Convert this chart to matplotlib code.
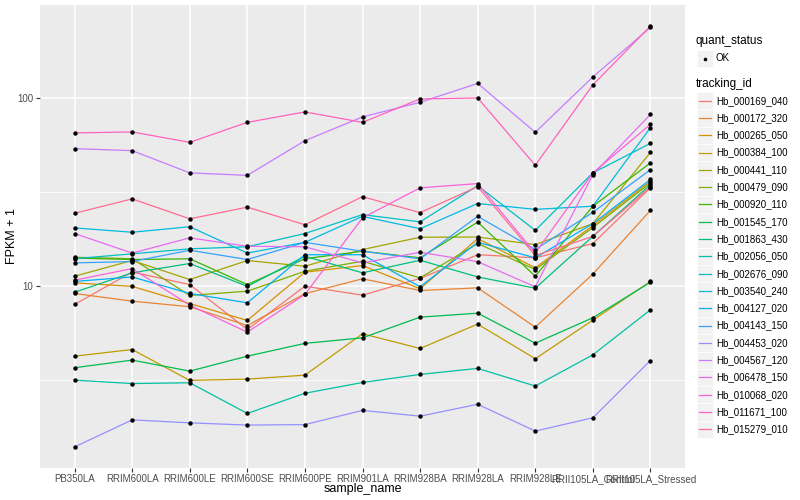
import numpy as np
import matplotlib
matplotlib.use('Agg')
import matplotlib.pyplot as plt
from matplotlib.patches import Rectangle
from matplotlib.lines import Line2D
from matplotlib.ticker import NullLocator

plt.rcParams['font.family'] = ['Liberation Sans', 'DejaVu Sans']

# ==========================================
# DATA (FPKM + 1)
# ==========================================
samples = ['PB350LA', 'RRIM600LA', 'RRIM600LE', 'RRIM600SE', 'RRIM600PE', 'RRIM901LA',
           'RRIM928BA', 'RRIM928LA', 'RRIM928LE', 'RRII105LA_Control', 'RRII105LA_Stressed']

tracking_ids = ['Hb_000169_040', 'Hb_000172_320', 'Hb_000265_050', 'Hb_000384_100',
                'Hb_000441_110', 'Hb_000479_090', 'Hb_000920_110', 'Hb_001545_170',
                'Hb_001863_430', 'Hb_002056_050', 'Hb_002676_090', 'Hb_003540_240',
                'Hb_004127_020', 'Hb_004143_150', 'Hb_004453_020', 'Hb_004567_120',
                'Hb_006478_150', 'Hb_010068_020', 'Hb_011671_100', 'Hb_015279_010']

hb_000169_040 = [8.0, 11.9, 10.2, 5.89, 10.0, 8.96, 11.0, 14.7, 14.15, 16.85, 33.4]
hb_000172_320 = [9.15, 8.33, 7.78, 6.18, 9.13, 10.95, 9.49, 9.8, 6.06, 11.6, 25.3]
hb_000265_050 = [10.42, 9.98, 8.09, 6.58, 11.87, 12.88, 9.69, 17.9, 12.52, 21.0, 36.1]
hb_000384_100 = [4.25, 4.61, 3.16, 3.21, 3.37, 5.59, 4.67, 6.29, 4.12, 6.6, 10.6]
hb_000441_110 = [11.3, 13.69, 10.85, 13.69, 12.77, 15.66, 18.2, 18.25, 16.64, 21.5, 51.4]
hb_000479_090 = [14.25, 14.0, 8.93, 9.41, 12.01, 13.57, 11.08, 16.85, 12.26, 20.5, 35.4]
hb_000920_110 = [14.11, 13.86, 13.98, 10.2, 14.0, 15.34, 14.15, 21.9, 11.3, 26.6, 45.2]
hb_001545_170 = [3.69, 4.05, 3.54, 4.25, 4.97, 5.32, 6.85, 7.19, 4.98, 6.8, 10.5]
hb_001863_430 = [9.29, 11.78, 13.2, 9.98, 14.43, 11.78, 13.74, 11.2, 9.76, 18.4, 34.66]
hb_002056_050 = [3.17, 3.04, 3.07, 2.11, 2.7, 3.08, 3.4, 3.66, 2.95, 4.32, 7.49]
hb_002676_090 = [14.0, 14.86, 15.8, 16.2, 19.05, 24.0, 21.97, 34.2, 19.8, 40.0, 57.4]
hb_003540_240 = [20.4, 19.35, 20.7, 15.0, 17.1, 23.5, 20.2, 27.5, 25.6, 26.6, 69.6]
hb_004127_020 = [10.6, 11.2, 9.15, 8.16, 14.7, 14.7, 9.93, 17.1, 14.15, 21.5, 36.9]
hb_004143_150 = [13.3, 13.52, 15.53, 13.86, 17.1, 15.34, 13.98, 23.5, 15.66, 24.7, 41.6]
hb_004453_020 = [1.4, 1.95, 1.88, 1.83, 1.84, 2.19, 2.04, 2.36, 1.7, 2.0, 4.03]
hb_004567_120 = [53.8, 52.5, 40.0, 38.8, 59.3, 79.3, 94.8, 119.5, 65.7, 129.3, 237.0]
hb_006478_150 = [19.05, 15.0, 18.06, 16.3, 16.2, 13.3, 15.15, 13.5, 9.93, 39.2, 81.8]
hb_010068_020 = [10.76, 12.4, 7.93, 5.7, 9.04, 23.07, 33.3, 35.1, 15.0, 40.0, 72.4]
hb_011671_100 = [65.2, 66.0, 58.1, 74.2, 84.3, 74.2, 98.8, 100.0, 43.9, 117.3, 241.0]
hb_015279_010 = [24.4, 29.1, 22.8, 26.3, 21.2, 29.9, 24.6, 33.8, 14.55, 18.4, 33.7]

series = [hb_000169_040, hb_000172_320, hb_000265_050, hb_000384_100, hb_000441_110,
          hb_000479_090, hb_000920_110, hb_001545_170, hb_001863_430, hb_002056_050,
          hb_002676_090, hb_003540_240, hb_004127_020, hb_004143_150, hb_004453_020,
          hb_004567_120, hb_006478_150, hb_010068_020, hb_011671_100, hb_015279_010]

# ggplot2 default hue palette for 20 levels
colors = ['#F8766D', '#EA8331', '#D89000', '#C09B00', '#A3A500', '#7CAE00', '#39B600',
          '#00BB4E', '#00BF7D', '#00C1A3', '#00BFC4', '#00BAE0', '#00B0F6', '#35A2FF',
          '#9590FF', '#C77CFF', '#E76BF3', '#FA62DB', '#FF62BC', '#FF6C91']

W, H = 800, 500


def fig_xy(px, py):
    return px / W, 1 - py / H


fig = plt.figure(figsize=(8, 5), dpi=100)
ax = fig.add_axes([40 / W, 1 - 468 / H, 645 / W, 463 / H])
ax.set_facecolor('#EBEBEB')
for s in ax.spines.values():
    s.set_visible(False)

x = np.arange(1, len(samples) + 1)
for vals, col in zip(series, colors):
    ax.plot(x, vals, color=col, lw=0.9, zorder=3, solid_capstyle='round')
for vals in series:
    ax.plot(x, vals, 'o', color='black', ms=3.2, mec='black', mew=0, zorder=4)

# log scale with ggplot-like 5% expansion
ax.set_yscale('log')
allv = np.log10(np.concatenate([np.array(v) for v in series]))
lo, hi = allv.min(), allv.max()
pad = 0.05 * (hi - lo)
ax.set_ylim(10 ** (lo - pad), 10 ** (hi + pad))
ax.set_xlim(0.4, len(samples) + 0.6)

# grid lines
for yv in [10 ** 0.5, 10 ** 1.5, 10 ** 2.5]:
    ax.axhline(yv, color='white', lw=0.55, zorder=1)
for yv in [10, 100]:
    ax.axhline(yv, color='white', lw=1.1, zorder=1)
for xv in x:
    ax.axvline(xv, color='white', lw=1.1, zorder=1)

ax.set_yticks([10, 100])
ax.set_yticklabels(['10', '100'])
ax.yaxis.set_minor_locator(NullLocator())
ax.set_xticks(x)
ax.set_xticklabels(samples)
ax.tick_params(axis='both', colors='#333333', length=3, width=0.8,
               labelcolor='#4D4D4D', labelsize=7)
ax.tick_params(axis='x', pad=1.5)
ax.tick_params(axis='y', pad=2)

# axis titles
fig.text(*fig_xy(362.5, 489), 'sample_name', fontsize=9, ha='center', va='center')
fig.text(*fig_xy(12, 236.5), 'FPKM + 1', fontsize=9, ha='center', va='center',
         rotation=90)

# ==========================================
# LEGENDS (drawn by hand, ggplot style)
# ==========================================
key_w, key_h = 16, 17.3
fig.text(*fig_xy(696, 41), 'quant_status', fontsize=8.5, va='center', ha='left')
fig.patches.append(Rectangle(fig_xy(697, 50 + key_h), key_w / W, key_h / H,
                             transform=fig.transFigure, facecolor='#F2F2F2',
                             edgecolor='white', lw=0.5))
fig.lines.append(Line2D([705 / W], [1 - 58.5 / H], marker='o', color='black', ms=2.6,
                        mew=0, transform=fig.transFigure))
fig.text(*fig_xy(716, 58), 'OK', fontsize=7, va='center', ha='left')

fig.text(*fig_xy(696, 84.5), 'tracking_id', fontsize=8.5, va='center', ha='left')
top = 92
for i, (tid, col) in enumerate(zip(tracking_ids, colors)):
    y0 = top + i * key_h
    fig.patches.append(Rectangle(fig_xy(697, y0 + key_h), key_w / W, key_h / H,
                                 transform=fig.transFigure, facecolor='#F2F2F2',
                                 edgecolor='white', lw=0.5))
    yc = 1 - (y0 + key_h / 2) / H
    fig.lines.append(Line2D([699 / W, 711 / W], [yc, yc], color=col, lw=0.9,
                            transform=fig.transFigure))
    fig.text(716 / W, yc, tid, fontsize=7, va='center', ha='left')

fig.savefig('out.png', dpi=100, facecolor='white')
